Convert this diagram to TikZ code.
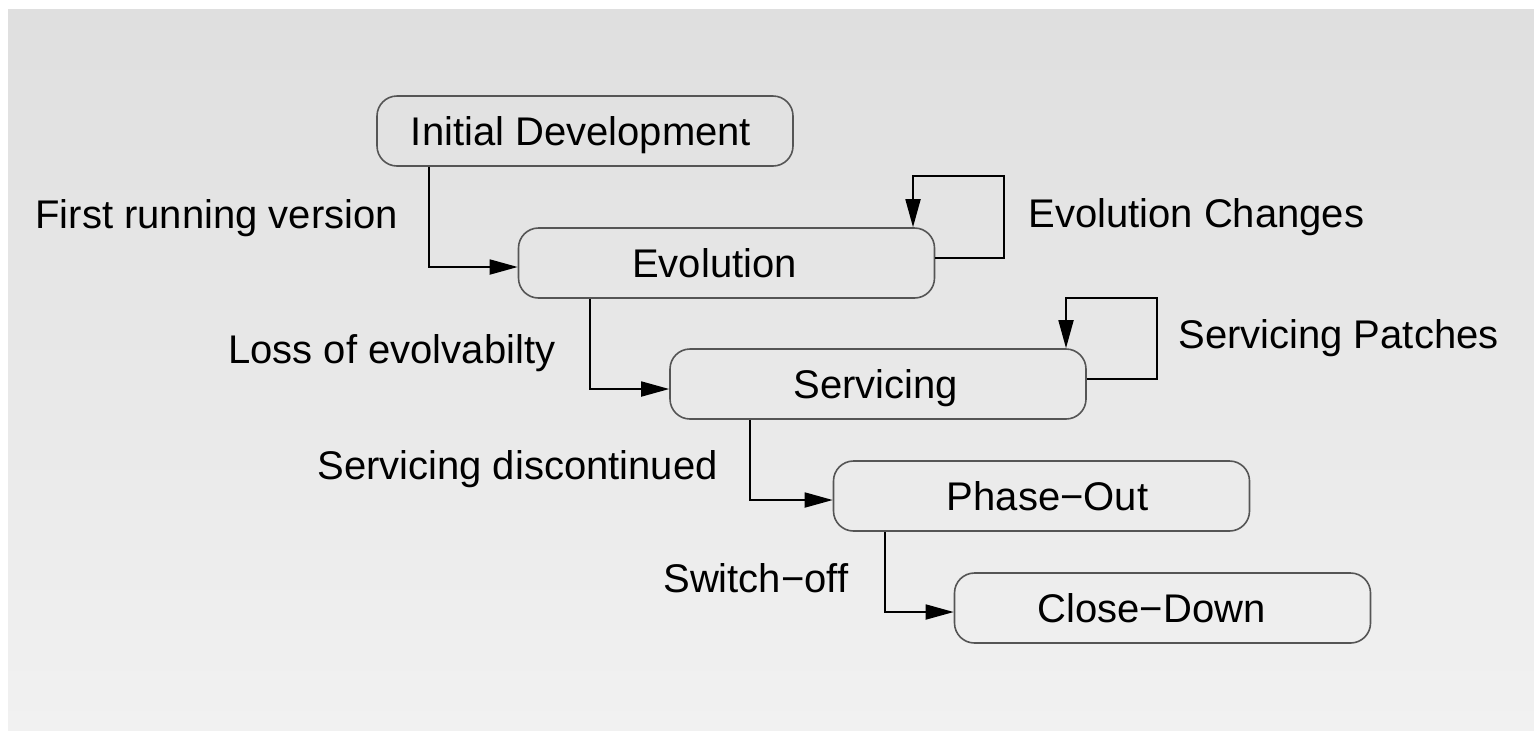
\documentclass[tikz,border=0pt]{standalone}
\usepackage{fontspec}
\setmainfont{Liberation Sans}
\usetikzlibrary{arrows.meta,calc}
\definecolor{bgtop}{HTML}{DFDFDF}
\definecolor{bgbot}{HTML}{F1F1F1}
\definecolor{boxline}{HTML}{555555}
\begin{document}
\begin{tikzpicture}[x=0.5pt,y=-0.5pt,
  state/.style={draw=boxline, line width=0.8pt, rounded corners=10pt, minimum width=208pt, minimum height=35pt, inner sep=0pt, text height=14.3pt, text depth=0pt, font=\fontsize{20}{24}\selectfont},
  lbl/.style={anchor=base west, inner sep=0pt, font=\fontsize{20}{24}\selectfont},
  conn/.style={draw=black, line width=0.9pt, -{Triangle[length=14pt,width=7.5pt]}}]
\fill[white] (0,0) rectangle (1534,730);
\shade[top color=bgtop, bottom color=bgbot] (8,9) rectangle (1534,730);
\useasboundingbox (0,0) rectangle (1534,730);
% states
\node[state] (id) at (585,131) {Initial Development\hspace*{4pt}};
\node[state] (evo) at (726.5,263) {Evolution\hspace*{12pt}};
\node[state] (serv) at (878,384) {Servicing\hspace*{2pt}};
\node[state] (phase) at (1041.5,496) {\hspace*{6pt}Phase−Out};
\node[state] (close) at (1162.5,608) {Close−Down\hspace*{11pt}};
% labels
\node[lbl] (l1) at (35,228) {First running version};
\node[lbl] (l2) at (1028,227) {Evolution Changes};
\node[lbl] (l3) at (228,363) {Loss of evolvabilty};
\node[lbl] (l4) at (1178,348) {Servicing Patches};
\node[lbl] (l5) at (317,479) {Servicing discontinued};
\node[lbl] (l6) at (663,592) {Switch−off};
% transition corners
\coordinate (c1) at (429,267);
\coordinate (c2) at (590,389);
\coordinate (c3) at (750,500);
\coordinate (c4) at (885,612);
\draw[conn] (id.south -| c1) |- (c1 -| evo.west);
\draw[conn] (evo.south -| c2) |- (c2 -| serv.west);
\draw[conn] (serv.south -| c3) |- (c3 -| phase.west);
\draw[conn] (phase.south -| c4) |- (c4 -| close.west);
% self loops
\coordinate (ey) at (1004,258);
\coordinate (et) at (913,176);
\draw[conn] (evo.east |- ey) -- (ey) |- (et) -- (et |- evo.north);
\coordinate (sy) at (1157,379);
\coordinate (st) at (1066,298);
\draw[conn] (serv.east |- sy) -- (sy) |- (st) -- (st |- serv.north);
\end{tikzpicture}
\end{document}
